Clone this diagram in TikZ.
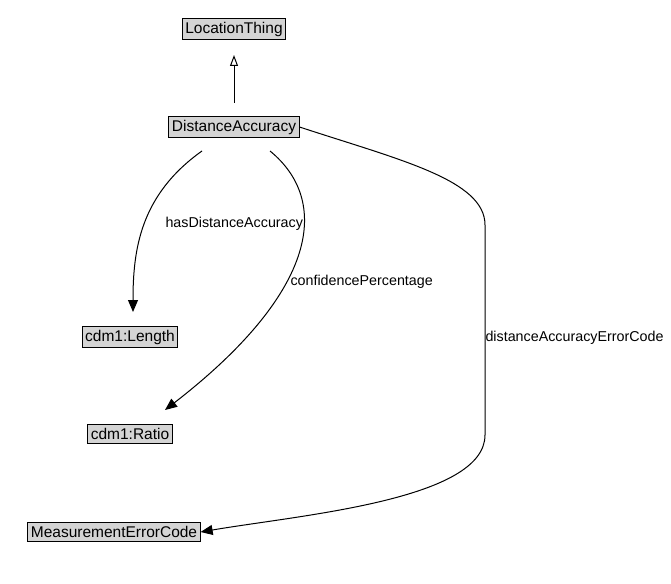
\documentclass[tikz,border=0pt]{standalone}
\usepackage{fontspec}
\setmainfont{Liberation Sans}
\usetikzlibrary{arrows.meta}
\begin{document}
\begin{tikzpicture}[x=1pt,y=-1pt,line width=1pt,
  cls/.style={draw,fill=black!17,inner xsep=3pt,inner ysep=3.5pt,font=\fontsize{15.5}{16}\selectfont},
  lbl/.style={font=\fontsize{14.3}{16}\selectfont,anchor=west,inner sep=0pt},
  rel/.style={-{Triangle[length=12pt,width=10pt]}},
  inh/.style={-{Triangle[open,length=11pt,width=8pt]}}]
\useasboundingbox (0,0) rectangle (671,583);
\node[cls] (lt) at (234,29) {LocationThing};
\node[cls] (da) at (234,127) {DistanceAccuracy};
\node[cls] (len) at (130,337) {cdm1:Length};
\node[cls] (rat) at (130,434) {cdm1:Ratio};
\node[cls] (mec) at (114,532) {MeasurementErrorCode};
\coordinate (s1) at (234,103);
\coordinate (e1) at (234,55);
\draw[inh] (s1) -- (e1);
\coordinate (a1) at (202,151);
\coordinate (b1) at (133,312);
\draw[rel] (a1) .. controls (140,195) and (133,250) .. (b1);
\node[lbl] at (165,224) {hasDistanceAccuracy};
\coordinate (a2) at (270,151);
\coordinate (b2) at (165,410);
\draw[rel] (a2) .. controls (330,200) and (320,290) .. (b2);
\node[lbl] at (290,282) {confidencePercentage};
\coordinate (m1) at (485,225);
\coordinate (m2) at (485,435);
\draw (da.east) .. controls (400,160) and (485,180) .. (m1) -- (m2);
\draw[rel] (m2) .. controls (485,500) and (300,515) .. (mec.east);
\node[lbl] at (485,338) {distanceAccuracyErrorCode};
\end{tikzpicture}
\end{document}
